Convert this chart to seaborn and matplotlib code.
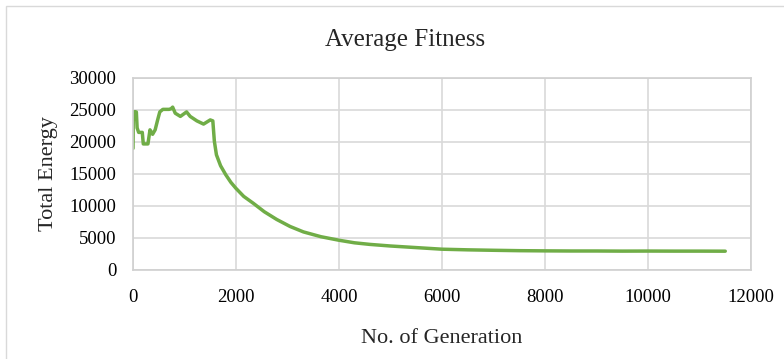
import matplotlib
matplotlib.use("Agg")
import matplotlib.pyplot as plt
import seaborn as sns
from matplotlib.patches import Rectangle

# Average fitness (total energy) per generation
generation = [0, 6, 20, 35, 50, 65, 80, 110, 180, 200, 290, 330, 380, 430, 480,
              520, 580, 700, 740, 770, 820, 920, 1040, 1110, 1240, 1370, 1500,
              1550, 1580, 1620, 1700, 1800, 1900, 2000, 2150, 2340, 2550, 2790,
              3050, 3310, 3650, 4000, 4300, 4600, 5000, 5500, 6000, 6500, 7000,
              7500, 8000, 8500, 9000, 9500, 10000, 10500, 11000, 11500]
energy = [19000, 24700, 23600, 24700, 23900, 24700, 22200, 21500, 21500, 19700,
          19700, 21900, 21200, 21900, 23500, 24700, 25100, 25100, 25200, 25450,
          24500, 24000, 24700, 24000, 23300, 22800, 23450, 23300, 20100, 18000,
          16300, 14900, 13700, 12750, 11500, 10400, 9100, 7900, 6800, 5950,
          5200, 4650, 4250, 4000, 3750, 3500, 3250, 3150, 3080, 3020, 2990,
          2970, 2970, 2950, 2960, 2950, 2950, 2940]

x_ticks = [0, 2000, 4000, 6000, 8000, 10000, 12000]
y_ticks = [0, 5000, 10000, 15000, 20000, 25000, 30000]

sns.set_style("white")
plt.rcParams["font.family"] = ["Liberation Serif", "DejaVu Serif"]

fig = plt.figure(figsize=(7.84, 3.59), dpi=100)
ax = fig.add_axes([133 / 784, 1 - 270 / 359, (751 - 133) / 784, (270 - 78) / 359])

sns.lineplot(x=generation, y=energy, ax=ax, color="#70AD47", linewidth=2.5)

ax.set_xlim(0, 12000)
ax.set_ylim(0, 30000)
ax.set_xticks(x_ticks)
ax.set_yticks(y_ticks)
ax.set_xticklabels([str(t) for t in x_ticks])
ax.set_yticklabels([str(t) for t in y_ticks])
ax.tick_params(axis="both", length=0, labelsize=13.5, colors="black")
ax.tick_params(axis="x", pad=14)
ax.tick_params(axis="y", pad=12)
ax.grid(True, color="#D9D9D9", linewidth=1.2)
ax.set_axisbelow(True)
for side in ax.spines.values():
    side.set_color("#D0D0D0")
    side.set_linewidth(1.2)

ax.set_xlabel("No. of Generation", fontsize=16, labelpad=16)
ax.set_ylabel("Total Energy", fontsize=16, labelpad=8)
fig.text(405 / 784, 1 - 40 / 359, "Average Fitness", fontsize=18,
         ha="center", va="center")

# chart-area frame
fig.patches.append(Rectangle((6 / 784, -0.1), 1.2, 1 - 6 / 359 + 0.1,
                             transform=fig.transFigure, fill=False,
                             edgecolor="#D9D9D9", linewidth=1.0))

fig.savefig("out.png", dpi=100)
